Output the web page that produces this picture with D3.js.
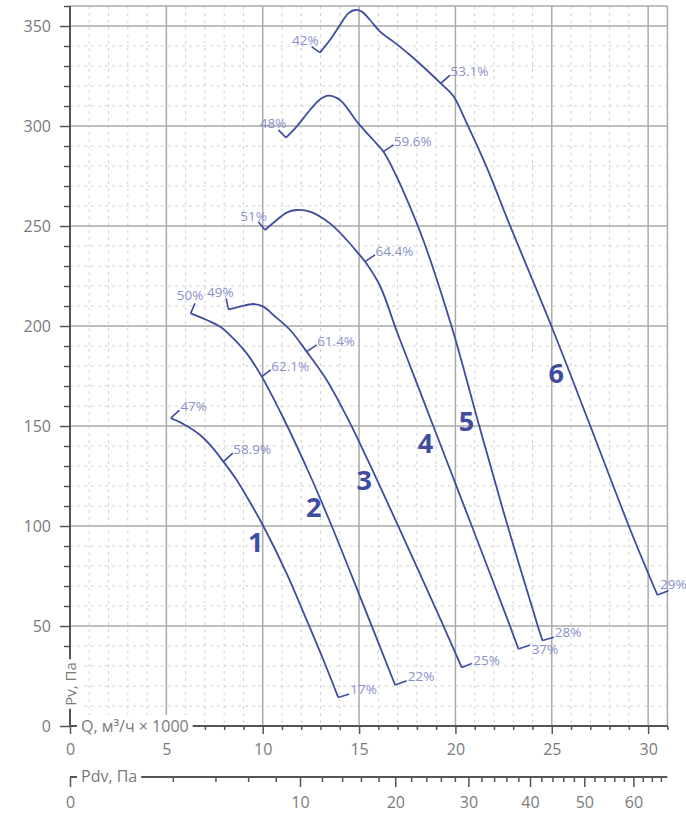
<!DOCTYPE html>
<html><head><meta charset="utf-8">
<script src="https://cdn.jsdelivr.net/npm/d3@7"></script>
<style>
body{margin:0;background:#fff;}
svg{display:block;font-family:"Open Sans",sans-serif;}
</style>
</head><body>
<svg id="chart" width="686" height="814"></svg>
<script>
// ---------------- DATA ----------------
const curveNames = ["1", "2", "3", "4", "5", "6"];
// Q, m3/h x 1000  and  Pv, Pa
const q1 = [5.23, 5.88, 6.75, 7.35, 7.96, 8.65, 9.17, 10.03, 11.24, 12.28, 13.15, 13.92];
const p1 = [153.9, 151, 145.5, 139.7, 132.2, 123, 114.7, 100, 76.3, 53, 33, 14.3];
const q2 = [6.26, 7.09, 7.78, 8.47, 9.17, 9.95, 11.07, 12.45, 13.58, 15.05, 16.87];
const p2 = [206.3, 203, 199.7, 193.8, 186.3, 174.7, 154, 125.5, 100, 64.7, 20.5];
const q3 = [8.22, 8.82, 9.51, 10.03, 10.55, 11.42, 12.28, 13.32, 14.36, 14.88, 15.95, 17.04, 18.16, 19.25, 20.33];
const p3 = [208.3, 209.7, 211, 209.7, 205.5, 198, 187.2, 173, 154.7, 144.6, 122.7, 99.8, 76.1, 52.8, 29.2];
const q4 = [10.12, 10.73, 11.24, 11.76, 12.45, 13.49, 14.36, 14.96, 15.31, 16.09, 16.95, 17.47, 18.16, 18.77, 19.55, 20.85, 22.83, 23.27];
const p4 = [248, 253, 256.7, 258, 257.2, 251.3, 243, 236.3, 232.2, 220, 197.5, 184.5, 167.3, 152, 132.5, 100, 50, 38.5];
const q5 = [11.21, 11.76, 12.45, 12.97, 13.41, 14.01, 14.96, 15.74, 16.26, 16.95, 17.64, 18.33, 19.03, 19.98, 21.2, 22.66, 24.29, 24.52];
const p5 = [294.2, 299.7, 308, 313.3, 315.2, 313, 301.3, 293, 287.2, 274.7, 259.7, 243, 223.4, 194, 151.3, 101.7, 49.5, 42.7];
const q6 = [12.97, 13.49, 14.01, 14.44, 14.79, 15.14, 15.57, 16.09, 16.78, 17.64, 18.51, 19.24, 19.89, 20.59, 21.62, 22.83, 25.0, 26.98, 29.1, 30.48];
const p6 = [336.7, 343, 350.5, 356.3, 358, 357.2, 353, 347.2, 342.2, 335.5, 328, 321.3, 315, 301.3, 279.4, 250.3, 199.5, 150.5, 97.5, 65.5];

// efficiency labels: at start, at a mid point, at end of each curve
const effStart = ["47%", "50%", "49%", "51%", "48%", "42%"];
const effMid = ["58.9%", "62.1%", "61.4%", "64.4%", "59.6%", "53.1%"];
const effMidQ = [7.96, 9.95, 12.28, 15.31, 16.26, 19.24];
const effEnd = ["17%", "22%", "25%", "37%", "28%", "29%"];

const qTicks = [0, 5, 10, 15, 20, 25, 30];
const pTicks = [0, 50, 100, 150, 200, 250, 300, 350];
const pdvTicks = [0, 10, 20, 30, 40, 50, 60];
const pdvPerQ2 = 0.0702;          // Pdv = k * Q^2

// ---------------- LAYOUT ----------------
const Q_MAX = 31, P_MAX = 360;
const x = d3.scaleLinear().domain([0, Q_MAX]).range([70, 667.4]);
const y = d3.scaleLinear().domain([0, P_MAX]).range([726, 6]);
const xPdv = d3.scaleSqrt().domain([0, pdvPerQ2 * Q_MAX * Q_MAX]).range(x.range());
const pdvAxisY = 777;

const curveColor = "#3f4c9f";
const effColor = "#8990c9";
const axisTextColor = "#7a7a7a";
const axisColor = "#555";

// curve-number label positions (data coords) and tail offsets (px)
const numPos = [[9.64, 92.2], [12.65, 109.7], [15.27, 123.4], [18.45, 141.8], [20.57, 153], [25.23, 176.6]];
const tailStart = [[8.6, -8], [4.3, -10], [-2.3, -11], [-6.7, -8.3], [-7.7, -7.7], [-8.3, -6]];
const tailMid = [[9.4, -8.4], [9, -6.7], [10, -6.7], [10, -6.7], [10, -6.7], [9.3, -8.3]];
const tailEnd = [[11, -3.3], [11.7, -4.3], [10, -4], [11.7, -4], [11.3, -3.4], [11, -4.3]];
const startLblAnchor = ["start", "end", "end", "end", "end", "end"];
const startLblOff = [[1, 1], [8.5, -3], [7.5, -1], [8.5, -0.5], [8, -1.5], [7, -1.5]];
const endLblOff = [[1, -0.5], [1, 0.5], [1.5, 1], [1.5, 8.5], [1, 0], [-8.3, -1.7]];

const svg = d3.select("#chart");

// ---------------- GRID ----------------
const grid = svg.append("g");
const minorQ = d3.range(1, Q_MAX).filter(v => v % 5 !== 0);
const minorP = d3.range(10, P_MAX, 10).filter(v => v % 50 !== 0);
grid.selectAll(".mq").data(minorQ).join("line")
  .attr("x1", d => x(d)).attr("x2", d => x(d)).attr("y1", y(P_MAX)).attr("y2", y(0))
  .attr("stroke", "#d2d2d2").attr("stroke-width", 1).attr("stroke-dasharray", "3,4");
grid.selectAll(".mp").data(minorP).join("line")
  .attr("x1", x(0)).attr("x2", x(Q_MAX)).attr("y1", d => y(d)).attr("y2", d => y(d))
  .attr("stroke", "#d2d2d2").attr("stroke-width", 1).attr("stroke-dasharray", "3,4");
grid.selectAll(".Mq").data(qTicks.filter(d => d > 0)).join("line")
  .attr("x1", d => x(d)).attr("x2", d => x(d)).attr("y1", y(P_MAX)).attr("y2", y(0))
  .attr("stroke", "#aaaaaa").attr("stroke-width", 1.5);
grid.selectAll(".Mp").data(pTicks.filter(d => d > 0)).join("line")
  .attr("x1", x(0)).attr("x2", x(Q_MAX)).attr("y1", d => y(d)).attr("y2", d => y(d))
  .attr("stroke", "#aaaaaa").attr("stroke-width", 1.5);
// frame top & right
grid.append("line").attr("x1", x(0)).attr("x2", x(Q_MAX)).attr("y1", y(P_MAX)).attr("y2", y(P_MAX))
  .attr("stroke", "#aaaaaa").attr("stroke-width", 1.5);
grid.append("line").attr("x1", x(Q_MAX)).attr("x2", x(Q_MAX)).attr("y1", y(P_MAX)).attr("y2", y(0))
  .attr("stroke", "#aaaaaa").attr("stroke-width", 1.5);

// ---------------- AXES ----------------
function styleAxis(g) {
  g.select(".domain").remove();
  g.selectAll(".tick line").attr("stroke", axisColor).attr("stroke-width", 1.5);
  g.selectAll(".tick text").attr("fill", axisTextColor).attr("font-size", 16)
    .attr("font-family", "'Open Sans',sans-serif");
}
// Y axis
svg.append("g").attr("transform", `translate(${x(0)},0)`)
  .call(d3.axisLeft(y).tickValues(minorP.concat([P_MAX])).tickSize(6).tickFormat(""))
  .call(styleAxis);
svg.append("g").attr("transform", `translate(${x(0)},0)`)
  .call(d3.axisLeft(y).tickValues(pTicks).tickSize(10).tickPadding(9))
  .call(styleAxis);
svg.append("line").attr("x1", x(0)).attr("x2", x(0)).attr("y1", y(P_MAX)).attr("y2", y(0))
  .attr("stroke", axisColor).attr("stroke-width", 2);

// Q axis
const qMinorTicks = d3.range(1, Q_MAX + 1).filter(v => v % 5 !== 0);
svg.append("g").attr("transform", `translate(0,${y(0)})`)
  .call(d3.axisBottom(x).tickValues(qMinorTicks).tickSize(4).tickFormat(""))
  .call(styleAxis);
svg.append("g").attr("transform", `translate(0,${y(0)})`)
  .call(d3.axisBottom(x).tickValues(qTicks).tickSize(8).tickPadding(10))
  .call(styleAxis);
svg.append("line").attr("x1", x(0)).attr("x2", x(Q_MAX)).attr("y1", y(0)).attr("y2", y(0))
  .attr("stroke", axisColor).attr("stroke-width", 2);

// Pdv axis
const pdvMinor = d3.range(2, 67, 2).filter(v => v % 10 !== 0);
svg.append("g").attr("transform", `translate(0,${pdvAxisY})`)
  .call(d3.axisBottom(xPdv).tickValues(pdvMinor).tickSize(5).tickFormat(""))
  .call(styleAxis);
svg.append("g").attr("transform", `translate(0,${pdvAxisY})`)
  .call(d3.axisBottom(xPdv).tickValues(pdvTicks).tickSize(10).tickPadding(10))
  .call(styleAxis);
svg.append("line").attr("x1", x(0)).attr("x2", x(Q_MAX)).attr("y1", pdvAxisY).attr("y2", pdvAxisY)
  .attr("stroke", axisColor).attr("stroke-width", 2);

// axis titles with white background
function boxedText(tx, ty, txt, rotate, size) {
  const g = svg.append("g").attr("transform", `translate(${tx},${ty})` + (rotate ? " rotate(-90)" : ""));
  const t = g.append("text").text(txt).attr("fill", axisTextColor).attr("font-size", size)
    .attr("dominant-baseline", "central")
    .attr("text-anchor", rotate ? "middle" : "start");
  const b = t.node().getBBox();
  const padX = rotate ? 3 : 4;
  g.insert("rect", "text").attr("x", b.x - padX).attr("y", b.y).attr("width", b.width + 2 * padX).attr("height", b.height)
    .attr("fill", "#fff");
  return g;
}
boxedText(81, y(0), "Q, м³/ч × 1000", false, 16);
boxedText(81, pdvAxisY - 1, "Pdv, Па", false, 16);
boxedText(x(0), 684, "Pv, Па", true, 15);

// ---------------- CURVES ----------------
const qs = [q1, q2, q3, q4, q5, q6];
const ps = [p1, p2, p3, p4, p5, p6];
const line = d3.line().x(d => x(d[0])).y(d => y(d[1])).curve(d3.curveCatmullRom.alpha(0.5));
const plot = svg.append("g");

curveNames.forEach((name, i) => {
  const pts = qs[i].map((q, j) => [q, ps[i][j]]);
  plot.append("path").attr("d", line(pts)).attr("fill", "none")
    .attr("stroke", curveColor).attr("stroke-width", 1.8).attr("stroke-linejoin", "round");

  const tail = (pt, off) => {
    const x0 = x(pt[0]), y0 = y(pt[1]);
    plot.append("line").attr("x1", x0).attr("y1", y0).attr("x2", x0 + off[0]).attr("y2", y0 + off[1])
      .attr("stroke", curveColor).attr("stroke-width", 1.6);
    return [x0 + off[0], y0 + off[1]];
  };
  // start
  const s = tail(pts[0], tailStart[i]);
  plot.append("text").text(effStart[i]).attr("x", s[0] + startLblOff[i][0]).attr("y", s[1] + startLblOff[i][1])
    .attr("text-anchor", startLblAnchor[i]).attr("fill", effColor).attr("font-size", 13.5);
  // mid
  const mIdx = d3.minIndex(qs[i], q => Math.abs(q - effMidQ[i]));
  const m = tail(pts[mIdx], tailMid[i]);
  plot.append("text").text(effMid[i]).attr("x", m[0] + 0.5).attr("y", m[1] + 1)
    .attr("fill", effColor).attr("font-size", 13.5);
  // end
  const e = tail(pts[pts.length - 1], tailEnd[i]);
  plot.append("text").text(effEnd[i]).attr("x", e[0] + endLblOff[i][0]).attr("y", e[1] + endLblOff[i][1])
    .attr("fill", effColor).attr("font-size", 13.5);
  // curve number
  plot.append("text").text(name).attr("x", x(numPos[i][0])).attr("y", y(numPos[i][1]))
    .attr("text-anchor", "middle").attr("dominant-baseline", "central")
    .attr("fill", curveColor).attr("font-size", 27).attr("font-weight", 700);
});
</script>
</body></html>
